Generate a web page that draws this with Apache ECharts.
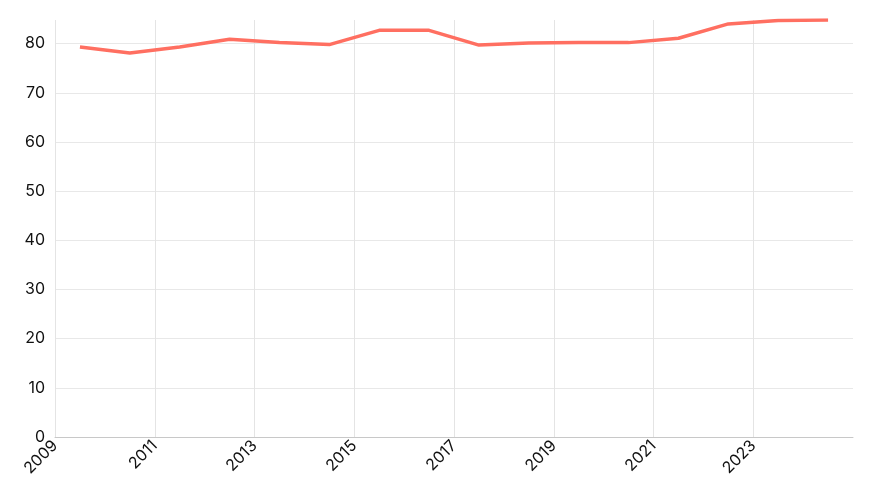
<!DOCTYPE html>
<html>
<head>
<meta charset="utf-8">
<script src="https://cdn.jsdelivr.net/npm/echarts@6/dist/echarts.min.js"></script>
<style>
  html, body { margin: 0; padding: 0; background: #fff; }
  #chart { width: 873px; height: 500px; }
</style>
</head>
<body>
<div id="chart"></div>
<script>
// mid-year positions of each yearly point
const years = [2009.5, 2010.5, 2011.5, 2012.5, 2013.5, 2014.5, 2015.5, 2016.5,
               2017.5, 2018.5, 2019.5, 2020.5, 2021.5, 2022.5, 2023.5, 2024.5];
const values = [79.3, 78.1, 79.3, 80.9, 80.2, 79.8, 82.7, 82.7,
                79.7, 80.1, 80.2, 80.2, 81.1, 84.0, 84.7, 84.8];

const chart = echarts.init(document.getElementById('chart'));
chart.setOption({
  animation: false,
  grid: { left: 55, right: 20, top: 20, bottom: 63 },
  xAxis: {
    type: 'value',
    min: 2009,
    max: 2025,
    interval: 2,
    axisLine: { show: true, lineStyle: { color: '#c8c8c8' } },
    axisTick: { show: false },
    axisLabel: {
      rotate: 45,
      color: '#111',
      fontFamily: 'Inter',
      fontSize: 16,
      margin: 6,
      showMaxLabel: false,
      formatter: v => String(v)
    },
    splitLine: { show: true, showMaxLine: false, lineStyle: { color: '#e4e4e4' } }
  },
  yAxis: {
    type: 'value',
    min: 0,
    max: 'dataMax',
    interval: 10,
    axisLine: { show: false },
    axisTick: { show: false },
    axisLabel: {
      color: '#111',
      fontFamily: 'Inter',
      fontSize: 16,
      margin: 10,
      showMaxLabel: false
    },
    splitLine: { show: true, showMaxLine: false, lineStyle: { color: '#e8e8e8' } }
  },
  series: [{
    type: 'line',
    data: years.map((y, i) => [y, values[i]]),
    showSymbol: false,
    lineStyle: { color: '#ff6f61', width: 3.5 },
    itemStyle: { color: '#ff6f61' }
  }]
});
</script>
</body>
</html>
